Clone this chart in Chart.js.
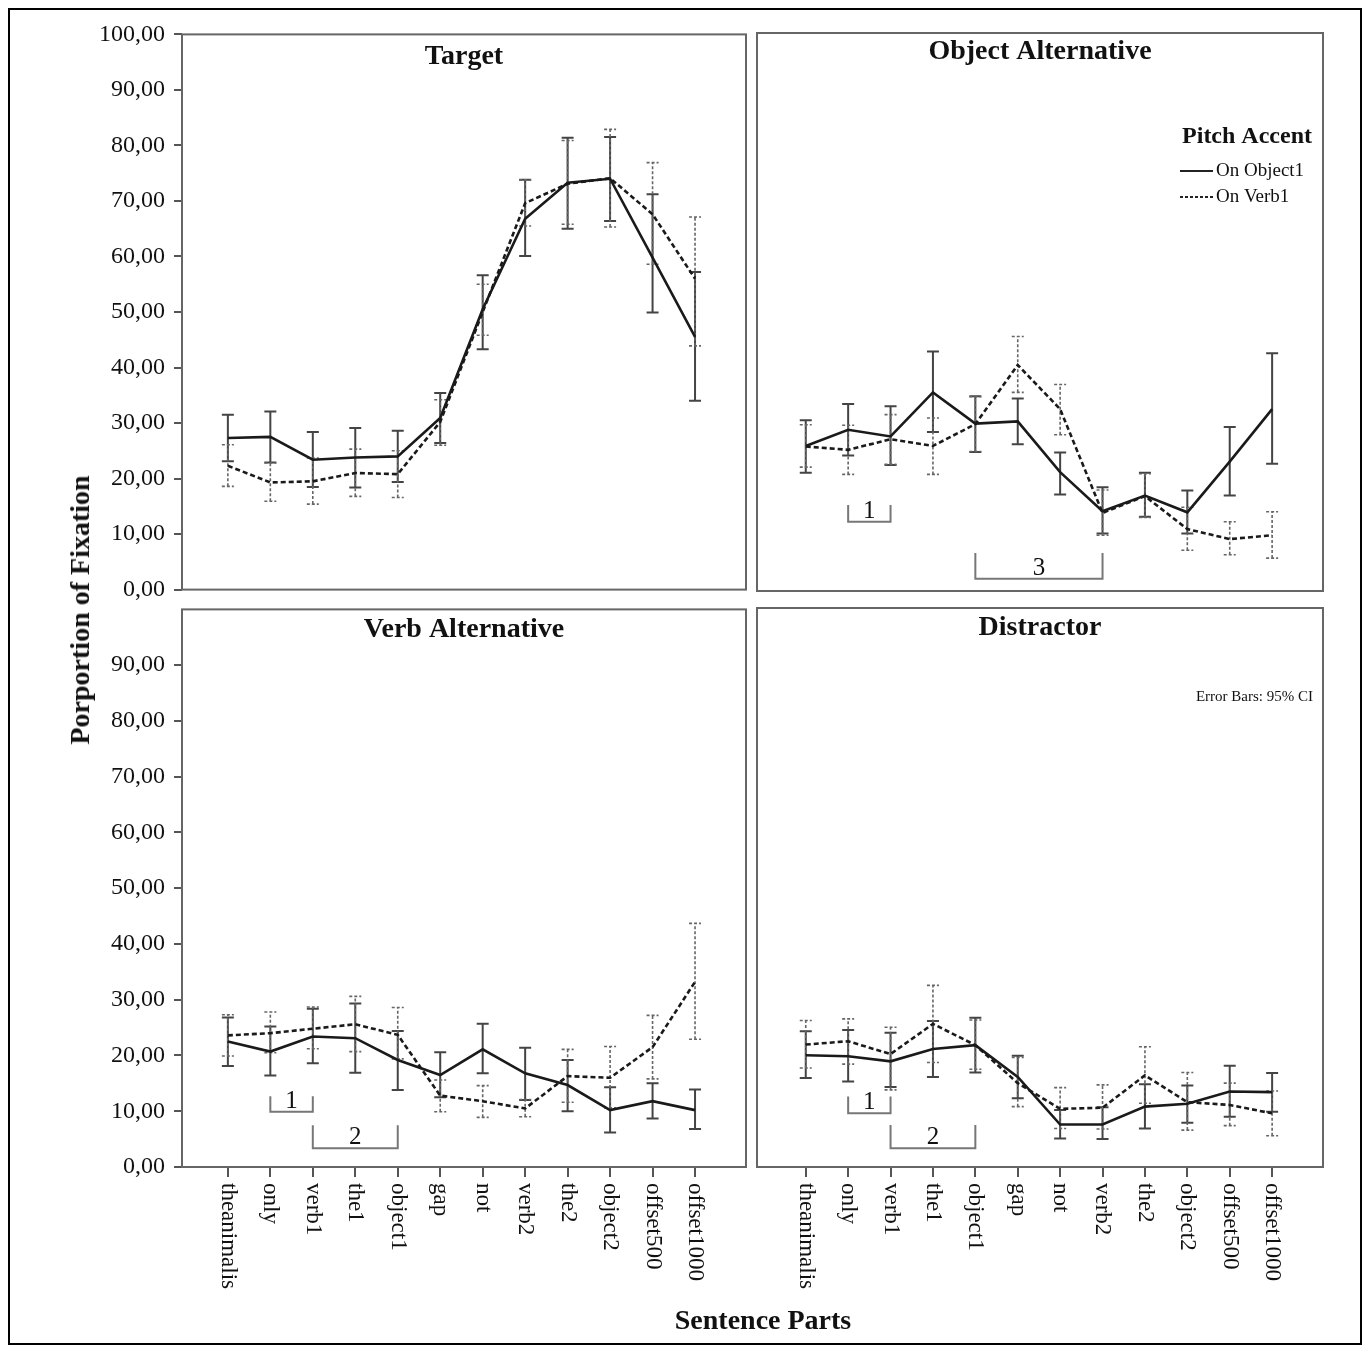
<!DOCTYPE html>
<html>
<head>
<meta charset="utf-8">
<script src="https://cdn.jsdelivr.net/npm/chart.js@4.4.1/dist/chart.umd.min.js"></script>
<style>
  body { margin: 0; background: #fff; width: 1368px; height: 1353px; position: relative; font-family: "Liberation Serif", serif; color: #111; }
  #frame { position: absolute; left: 8px; top: 8px; width: 1354px; height: 1337px; border: 2px solid #000; box-sizing: border-box; }
  canvas { position: absolute; }
  #yTitle { position: absolute; left: 80px; top: 610px; transform: translate(-50%, -50%) rotate(-90deg); white-space: nowrap; font-weight: bold; font-size: 28px; }
  #xTitle { position: absolute; left: 763px; top: 1320px; transform: translate(-50%, -50%); white-space: nowrap; font-weight: bold; font-size: 28px; }
</style>
</head>
<body>
<div id="frame"></div>
<canvas id="targetChart" width="661" height="602" style="left:90px; top:11px;"></canvas>
<canvas id="objAltChart" width="576" height="602" style="left:752px; top:11px;"></canvas>
<canvas id="verbAltChart" width="661" height="727" style="left:90px; top:586px;"></canvas>
<canvas id="distChart" width="576" height="727" style="left:752px; top:586px;"></canvas>
<div id="yTitle">Porportion of Fixation</div>
<div id="xTitle">Sentence Parts</div>

<script>
const categories = ["theanimalis", "only", "verb1", "the1", "object1", "gap", "not", "verb2", "the2", "object2", "offset500", "offset1000"];
const yTicks = [0, 10, 20, 30, 40, 50, 60, 70, 80, 90, 100];

// Target
const targetObj = [27.3, 27.5, 23.4, 23.8, 24.0, 30.9, 50.5, 66.8, 73.3, 74.0, 59.8, 45.5];
const targetObjLo = [23.1, 22.9, 18.5, 18.4, 19.4, 26.4, 43.3, 60.1, 65.0, 66.4, 49.9, 34.0];
const targetObjHi = [31.5, 32.1, 28.4, 29.1, 28.6, 35.4, 56.6, 73.8, 81.4, 81.5, 71.2, 57.2];
const targetVerb = [22.3, 19.3, 19.5, 21.0, 20.8, 30.2, 50.0, 69.6, 73.1, 74.1, 67.6, 56.0];
const targetVerbLo = [18.6, 15.9, 15.4, 16.8, 16.6, 26.0, 45.8, 65.5, 65.8, 65.3, 58.6, 43.9];
const targetVerbHi = [26.1, 22.8, 23.7, 25.3, 25.0, 34.2, 55.0, 73.8, 80.9, 82.9, 76.9, 67.1];

// Object Alternative
const objAltObj = [26.0, 28.9, 27.7, 35.6, 30.0, 30.4, 21.3, 14.3, 17.1, 14.1, 23.2, 32.6];
const objAltObjLo = [21.2, 24.3, 22.6, 28.5, 24.9, 26.3, 17.3, 10.3, 13.3, 10.3, 17.1, 22.8];
const objAltObjHi = [30.6, 33.5, 33.1, 42.9, 34.9, 34.5, 24.8, 18.6, 21.2, 18.0, 29.4, 42.6];
const objAltVerb = [25.9, 25.3, 27.2, 26.0, 29.9, 40.5, 32.6, 14.0, 17.0, 11.1, 9.3, 10.0];
const objAltVerbLo = [22.2, 20.9, 22.7, 20.9, 25.0, 35.6, 28.0, 10.0, 13.2, 7.3, 6.5, 5.9];
const objAltVerbHi = [29.8, 29.7, 31.6, 31.0, 34.8, 45.6, 37.0, 18.1, 21.0, 15.0, 12.4, 14.2];

// Verb Alternative
const verbAltObj = [22.5, 20.7, 23.4, 23.1, 19.2, 16.5, 21.1, 16.8, 14.7, 10.2, 11.8, 10.2];
const verbAltObjLo = [18.1, 16.4, 18.6, 16.9, 13.8, 12.5, 16.8, 12.0, 10.0, 6.2, 8.7, 6.8];
const verbAltObjHi = [26.8, 25.2, 28.4, 29.3, 24.4, 20.6, 25.7, 21.4, 19.2, 14.3, 15.0, 13.9];
const verbAltVerb = [23.6, 24.0, 24.8, 25.6, 23.7, 12.8, 11.8, 10.5, 16.3, 16.0, 21.5, 33.2];
const verbAltVerbLo = [19.9, 20.5, 21.2, 20.7, 19.4, 9.9, 8.9, 9.0, 11.6, 10.6, 15.8, 22.9];
const verbAltVerbHi = [27.3, 27.8, 28.7, 30.6, 28.6, 15.6, 14.6, 12.1, 21.1, 21.6, 27.2, 43.7];

// Distractor
const distObj = [20.0, 19.8, 18.9, 21.1, 21.8, 16.1, 7.6, 7.6, 10.8, 11.3, 13.5, 13.4];
const distObjLo = [15.9, 15.3, 14.3, 16.1, 16.9, 12.3, 5.1, 5.0, 6.9, 7.9, 9.0, 9.9];
const distObjHi = [24.3, 24.5, 24.0, 26.1, 26.7, 19.9, 10.2, 10.7, 14.8, 14.6, 18.1, 16.8];
const distVerb = [21.9, 22.5, 20.2, 25.6, 21.8, 15.0, 10.4, 10.6, 16.4, 11.6, 11.1, 9.6];
const distVerbLo = [17.7, 18.4, 13.8, 18.7, 17.5, 10.8, 6.9, 6.8, 11.4, 6.6, 7.4, 5.6];
const distVerbHi = [26.2, 26.5, 25.0, 32.5, 26.3, 19.6, 14.2, 14.7, 21.5, 16.9, 15.0, 13.6];

// significance brackets: [fromIndex, toIndex, baseValue, topValue, label]
const objAltBrackets = [[1, 2, 12.4, 15.4, "1"], [4, 7, 2.2, 6.8, "3"]];
const verbAltBrackets = [[1, 2, 9.9, 12.7, "1"], [2, 4, 3.35, 7.5, "2"]];
const distBrackets = [[1, 2, 9.6, 12.6, "1"], [2, 4, 3.35, 7.5, "2"]];

const SERIF = "'Liberation Serif', 'Times New Roman', serif";

function fmt(v) {
  return v.toFixed(2).replace(".", ",");
}

function toPoints(values) {
  return values.map((v, i) => ({ x: i, y: v }));
}

function makePanelPlugin(cfg) {
  return {
    id: "panelExtras",
    beforeDatasetsDraw(chart) {
      const { ctx, chartArea: a, scales: { x, y } } = chart;
      ctx.save();
      ctx.strokeStyle = "#666";
      ctx.lineWidth = 2;
      ctx.strokeRect(a.left, a.top, a.width, a.height);

      const bars = [
        { lo: cfg.objLo, hi: cfg.objHi, color: "#444", width: 2, dash: [] },
        { lo: cfg.verbLo, hi: cfg.verbHi, color: "#666", width: 1.6, dash: [3, 2] },
      ];
      bars.forEach((bar) => {
        ctx.strokeStyle = bar.color;
        ctx.lineWidth = bar.width;
        ctx.setLineDash(bar.dash);
        bar.lo.forEach((lo, i) => {
          const px = x.getPixelForValue(i);
          const yl = y.getPixelForValue(lo);
          const yh = y.getPixelForValue(bar.hi[i]);
          ctx.beginPath();
          ctx.moveTo(px, yl); ctx.lineTo(px, yh);
          ctx.moveTo(px - 6, yl); ctx.lineTo(px + 6, yl);
          ctx.moveTo(px - 6, yh); ctx.lineTo(px + 6, yh);
          ctx.stroke();
        });
      });
      ctx.restore();
    },
    afterDatasetsDraw(chart) {
      const { ctx, chartArea: a, scales: { x, y } } = chart;
      ctx.save();
      ctx.fillStyle = "#111";

      // panel title
      ctx.font = `bold 28px ${SERIF}`;
      ctx.textAlign = "center";
      ctx.textBaseline = "middle";
      ctx.fillText(cfg.title, (a.left + a.right) / 2, a.top + cfg.titleOffset);

      // brackets
      (cfg.brackets || []).forEach(([from, to, base, top, label]) => {
        const x1 = x.getPixelForValue(from);
        const x2 = x.getPixelForValue(to);
        const yb = y.getPixelForValue(base);
        const yt = y.getPixelForValue(top);
        ctx.strokeStyle = "#777";
        ctx.lineWidth = 2;
        ctx.beginPath();
        ctx.moveTo(x1, yt); ctx.lineTo(x1, yb); ctx.lineTo(x2, yb); ctx.lineTo(x2, yt);
        ctx.stroke();
        ctx.font = `25px ${SERIF}`;
        ctx.textAlign = "center";
        ctx.textBaseline = "alphabetic";
        ctx.fillText(label, (x1 + x2) / 2, yb - 4);
      });

      // legend
      if (cfg.legend) {
        ctx.font = `bold 24px ${SERIF}`;
        ctx.textAlign = "right";
        ctx.textBaseline = "middle";
        ctx.fillText("Pitch Accent", a.right - 11, a.top + 104);
        ctx.font = `19px ${SERIF}`;
        ctx.textAlign = "left";
        const items = [["On Object1", []], ["On Verb1", [3, 2]]];
        items.forEach(([label, dash], k) => {
          const ly = a.top + 138 + k * 26;
          ctx.strokeStyle = "#222";
          ctx.lineWidth = 1.8;
          ctx.setLineDash(dash);
          ctx.beginPath();
          ctx.moveTo(a.right - 143, ly); ctx.lineTo(a.right - 110, ly);
          ctx.stroke();
          ctx.setLineDash([]);
          ctx.fillText(label, a.right - 107, ly);
        });
      }

      // error bar note
      if (cfg.note) {
        ctx.font = `15px ${SERIF}`;
        ctx.textAlign = "right";
        ctx.textBaseline = "middle";
        ctx.fillText(cfg.note, a.right - 10, a.top + 89);
      }

      // rotated category labels
      if (cfg.bottom) {
        ctx.font = `23px ${SERIF}`;
        ctx.textAlign = "left";
        ctx.textBaseline = "middle";
        categories.forEach((label, i) => {
          ctx.save();
          ctx.translate(x.getPixelForValue(i), a.bottom + 16);
          ctx.rotate(Math.PI / 2);
          ctx.fillText(label, 0, 0);
          ctx.restore();
        });
      }
      ctx.restore();
    },
  };
}

function renderPanel(elementId, cfg) {
  const canvas = document.getElementById(elementId);
  return new Chart(canvas, {
    type: "line",
    data: {
      datasets: [
        {
          label: "On Object1",
          data: toPoints(cfg.obj),
          borderColor: "#1a1a1a",
          borderWidth: 2.6,
          pointRadius: 0,
          tension: 0,
        },
        {
          label: "On Verb1",
          data: toPoints(cfg.verb),
          borderColor: "#1a1a1a",
          borderWidth: 2.6,
          borderDash: [5, 3],
          pointRadius: 0,
          tension: 0,
        },
      ],
    },
    options: {
      responsive: false,
      animation: false,
      layout: { padding: cfg.padding },
      plugins: { legend: { display: false }, tooltip: { enabled: false } },
      scales: {
        x: {
          type: "linear",
          min: cfg.xMin,
          max: 12.2,
          display: cfg.bottom,
          afterBuildTicks: (scale) => { scale.ticks = categories.map((c, i) => ({ value: i })); },
          afterFit: (scale) => { if (cfg.bottom) scale.height = 141; },
          ticks: { display: false },
          grid: { drawOnChartArea: false, tickLength: 10, color: "#555", lineWidth: 2 },
          border: { display: false },
        },
        y: {
          min: 0,
          max: 100,
          display: cfg.left,
          afterBuildTicks: (scale) => { scale.ticks = yTicks.map((v) => ({ value: v })); },
          afterFit: (scale) => { if (cfg.left) scale.width = 92; },
          ticks: {
            padding: 9,
            color: "#111",
            font: { family: SERIF, size: 24 },
            callback: (v) => (cfg.hideTop && v === 100 ? null : fmt(v)),
          },
          grid: { drawOnChartArea: false, tickLength: 8, color: "#555", lineWidth: 2 },
          border: { display: false },
        },
      },
    },
    plugins: [makePanelPlugin(cfg)],
  });
}

renderPanel("targetChart", {
  title: "Target", titleOffset: 22, left: true, bottom: false, xMin: -1.08,
  padding: { top: 22, right: 5, bottom: 22, left: 0 },
  obj: targetObj, objLo: targetObjLo, objHi: targetObjHi,
  verb: targetVerb, verbLo: targetVerbLo, verbHi: targetVerbHi,
});

renderPanel("objAltChart", {
  title: "Object Alternative", titleOffset: 19, left: false, bottom: false, xMin: -1.15, legend: true,
  padding: { top: 22, right: 5, bottom: 22, left: 5 },
  obj: objAltObj, objLo: objAltObjLo, objHi: objAltObjHi,
  verb: objAltVerb, verbLo: objAltVerbLo, verbHi: objAltVerbHi,
  brackets: objAltBrackets,
});

renderPanel("verbAltChart", {
  title: "Verb Alternative", titleOffset: 20, left: true, bottom: true, hideTop: true, xMin: -1.08,
  padding: { top: 22, right: 5, bottom: 5, left: 0 },
  obj: verbAltObj, objLo: verbAltObjLo, objHi: verbAltObjHi,
  verb: verbAltVerb, verbLo: verbAltVerbLo, verbHi: verbAltVerbHi,
  brackets: verbAltBrackets,
});

renderPanel("distChart", {
  title: "Distractor", titleOffset: 20, left: false, bottom: true, xMin: -1.15, note: "Error Bars: 95% CI",
  padding: { top: 22, right: 5, bottom: 5, left: 5 },
  obj: distObj, objLo: distObjLo, objHi: distObjHi,
  verb: distVerb, verbLo: distVerbLo, verbHi: distVerbHi,
  brackets: distBrackets,
});
</script>
</body>
</html>
